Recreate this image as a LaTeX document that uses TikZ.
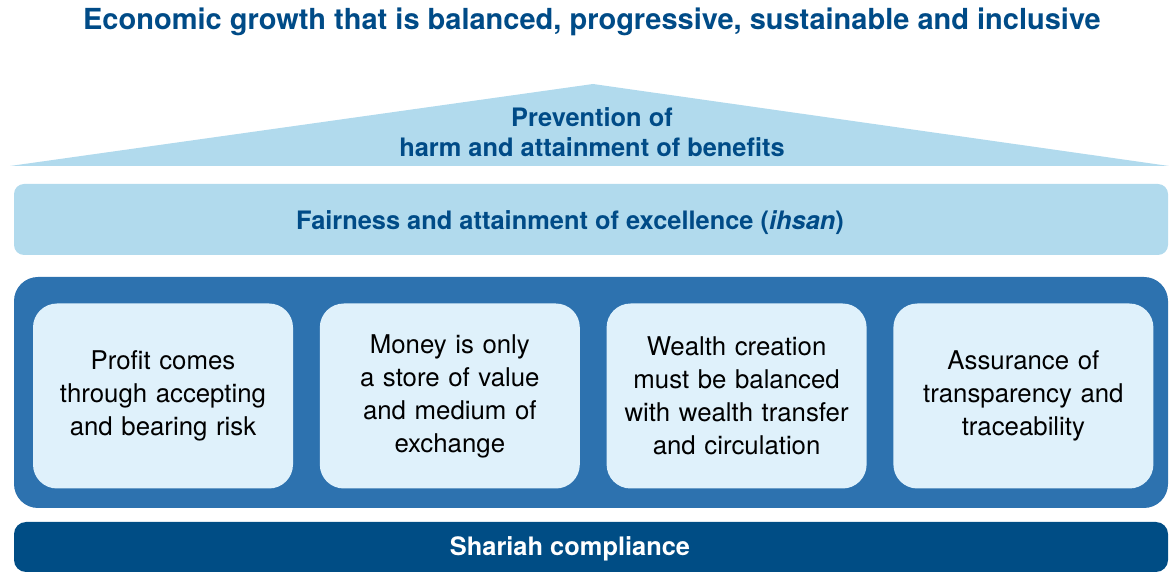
\documentclass[tikz,border=0pt]{standalone}
\usepackage{fontspec}
\setmainfont{TeX Gyre Heros}
\usetikzlibrary{positioning}

\definecolor{navy}{RGB}{0,75,135}
\definecolor{paleblue}{RGB}{177,218,237}
\definecolor{midblue}{RGB}{45,114,175}
\definecolor{iceblue}{RGB}{223,241,251}
\definecolor{deepblue}{RGB}{0,77,133}

\begin{document}
\begin{tikzpicture}[x=0.5pt, y=-0.5pt,
        band/.style={rounded corners=5pt, inner sep=0pt, minimum width=577pt},
        bandtext/.style={inner sep=0pt, font=\bfseries\fontsize{12.7}{15}\selectfont},
        pillar/.style={fill=iceblue, rounded corners=12pt, minimum width=130pt, minimum height=92.5pt,
            text width=125pt, inner sep=0pt, align=center, font=\fontsize{12.9}{16.5}\selectfont}
    ]
        \useasboundingbox (0,0) rectangle (1169,572);

        % headline
        \node[text=navy, font=\bfseries\fontsize{14.5}{17}\selectfont] (title) at (592,22)
            {Economic growth that is balanced, progressive, sustainable and inclusive};

        % roof
        \fill[paleblue] (10,166) -- (593,84) -- (1169,166) -- cycle;
        \node[text=navy, align=center, font=\bfseries\fontsize{12.7}{15}\selectfont] (roof) at (592,132)
            {Prevention of\\harm and attainment of benefits};

        % bands
        \node[band, fill=paleblue, minimum height=35.5pt] (ihsan) at (591,219.5) {};
        \node[band, fill=midblue, rounded corners=12pt, minimum height=115.5pt] (body) at (591,392.5) {};
        \node[band, fill=deepblue, minimum height=25pt, rounded corners=6pt] (shariah) at (591,547) {};
        \node[bandtext, text=navy] (ihsantext) at (570,223)
            {Fairness and attainment of excellence (\textit{ihsan})};
        \node[bandtext, text=white] (shariahtext) at (570,549) {Shariah compliance};

        % pillars
        \node[pillar] (risk) at (163,396) {Profit comes\\through accepting\\and bearing risk};
        \node[pillar, right=13pt of risk] (money) {Money is only\\a store of value\\and medium of\\exchange};
        \node[pillar, right=13pt of money] (wealth) {Wealth creation\\must be balanced\\with wealth transfer\\and circulation};
        \node[pillar, right=13pt of wealth] (trans) {Assurance of\\transparency and\\traceability};
    \end{tikzpicture}
\end{document}
